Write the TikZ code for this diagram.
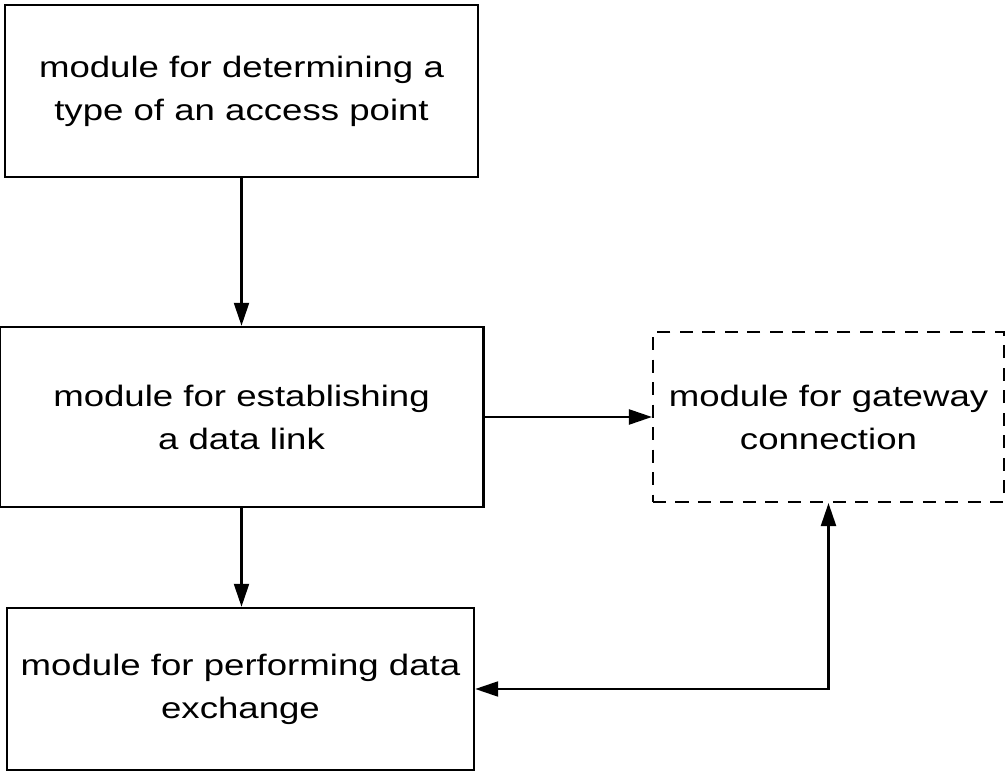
\documentclass[tikz,border=0pt]{standalone}
\usepackage{fontspec}
\setmainfont{Liberation Sans}[FakeStretch=1.24]
\usetikzlibrary{arrows.meta}

\begin{document}
\begin{tikzpicture}[scale=1,
  modbox/.style={draw,line width=1.4pt,align=center,inner sep=0pt,font=\fontsize{16.8}{24.5}\selectfont},
  gwbox/.style={modbox,line width=1.2pt,dash pattern=on 7.4pt off 5.4pt},
  tri/.style={line width=1.3pt,-{Triangle[length=4.6mm,width=3mm]}},
  tritri/.style={line width=1.3pt,{Triangle[length=4.6mm,width=3mm]}-{Triangle[length=4.6mm,width=3mm]}}]
\useasboundingbox (0,0) rectangle (20.14,15.44);
\node (det) [modbox,minimum width=9.46cm,minimum height=3.44cm] at (4.83,13.62) {module for determining a\\type of an access point} ;
\node (est) [modbox,minimum width=9.68cm,minimum height=3.6cm] at (4.83,7.1) {module for establishing\\a data link} ;
\node (exch) [modbox,minimum width=9.34cm,minimum height=3.24cm] at (4.81,1.66) {module for performing data\\exchange} ;
\node (gw) [gwbox,minimum width=7.02cm,minimum height=3.4cm] at (16.57,7.1) {module for gateway\\connection} ;
\draw[tri] (det.south) to (est.north) ;
\draw[tri] (est.south) to (est.south |- exch.north) ;
\draw[tri] (est.east) to (gw.west) ;
\draw[tritri] (exch.east) -| (gw.south) ;
\end{tikzpicture}
\end{document}
